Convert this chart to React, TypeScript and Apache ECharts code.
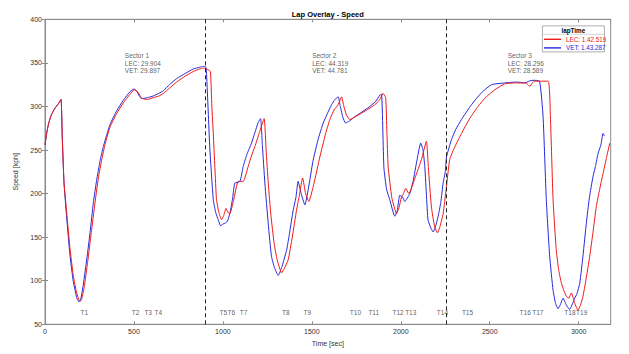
import React, { useEffect, useRef } from "react";
import * as echarts from "echarts";

const lecTime = [0, 10, 20, 35, 56, 75, 90, 97, 107, 122, 140, 159, 178, 197, 206, 220, 240, 260, 280, 300, 320, 337, 365, 403, 440, 478, 500, 520, 535, 548, 575, 608, 640, 665, 700, 740, 790, 833, 870, 889, 905, 919, 930, 938, 946, 955, 964, 978, 992, 1005, 1017, 1030, 1039, 1060, 1086, 1114, 1142, 1160, 1180, 1205, 1232, 1243, 1255, 1270, 1288, 1305, 1330, 1345, 1367, 1390, 1414, 1430, 1448, 1465, 1483, 1510, 1545, 1575, 1601, 1625, 1648, 1667, 1680, 1695, 1713, 1760, 1826, 1860, 1882, 1900, 1915, 1922, 1929, 1950, 1976, 1990, 2004, 2015, 2028, 2045, 2080, 2116, 2144, 2155, 2172, 2190, 2206, 2220, 2238, 2255, 2275, 2300, 2341, 2390, 2434, 2480, 2528, 2584, 2650, 2700, 2715, 2725, 2740, 2750, 2828, 2841, 2856, 2874, 2888, 2903, 2918, 2931, 2945, 2959, 2978, 2996, 3010, 3024, 3040, 3062, 3080, 3099, 3118, 3137, 3155, 3175];
const lecSpeed = [256, 270, 280, 290, 298, 303, 308, 265, 212, 178, 138, 106, 86, 76, 79, 92, 122, 155, 188, 218, 240, 256, 276, 292, 304, 314, 319, 317, 312, 309, 308, 310, 312, 315, 321, 328, 335, 340, 343, 344, 343, 342, 340, 300, 269, 230, 193, 178, 170, 175, 183, 178, 177, 192, 214, 214, 231, 243, 254, 270, 286, 250, 212, 175, 143, 124, 109, 114, 124, 150, 181, 198, 218, 200, 191, 210, 242, 267, 285, 296, 302, 311, 300, 290, 285, 290, 298, 303, 308, 315, 310, 270, 231, 195, 177, 184, 196, 200, 206, 200, 218, 239, 260, 230, 185, 162, 155, 162, 177, 205, 239, 252, 269, 287, 300, 311, 319, 326, 327, 327, 325, 323, 327, 329, 329, 288, 193, 135, 112, 97, 88, 82, 80, 86, 74, 66, 72, 82, 100, 128, 155, 185, 205, 223, 240, 258];

const vetTime = [0, 10, 20, 35, 56, 75, 90, 97, 107, 122, 140, 159, 178, 190, 200, 215, 235, 253, 272, 290, 310, 328, 365, 403, 440, 478, 500, 515, 530, 543, 575, 608, 640, 665, 700, 740, 790, 833, 870, 889, 905, 912, 927, 946, 960, 974, 987, 1000, 1011, 1025, 1040, 1055, 1067, 1096, 1114, 1135, 1161, 1180, 1199, 1212, 1222, 1236, 1255, 1273, 1290, 1311, 1330, 1358, 1375, 1395, 1410, 1423, 1440, 1461, 1480, 1507, 1535, 1564, 1590, 1611, 1630, 1648, 1660, 1675, 1690, 1710, 1740, 1770, 1826, 1860, 1882, 1892, 1905, 1920, 1938, 1966, 1980, 1994, 2010, 2022, 2051, 2070, 2088, 2112, 2125, 2135, 2145, 2153, 2170, 2182, 2195, 2210, 2225, 2238, 2250, 2257, 2285, 2310, 2341, 2380, 2416, 2460, 2510, 2584, 2650, 2700, 2720, 2743, 2780, 2800, 2818, 2837, 2856, 2870, 2884, 2898, 2912, 2931, 2949, 2962, 2978, 2990, 3006, 3025, 3043, 3060, 3080, 3095, 3109, 3125, 3137, 3145];
const vetSpeed = [256, 270, 280, 290, 298, 303, 308, 265, 212, 172, 130, 99, 81, 76, 78, 95, 125, 155, 190, 215, 238, 254, 279, 295, 307, 317, 320, 318, 312, 309, 310, 312, 315, 318, 325, 332, 338, 343, 345, 346, 345, 320, 250, 193, 178, 170, 163, 165, 166, 168, 178, 195, 212, 214, 231, 245, 258, 270, 282, 286, 255, 212, 165, 128, 115, 106, 115, 135, 155, 181, 195, 214, 200, 187, 205, 238, 262, 281, 293, 302, 308, 311, 300, 287, 281, 283, 288, 292, 300, 306, 313, 314, 230, 205, 193, 174, 180, 198, 196, 191, 200, 215, 235, 258, 250, 231, 195, 170, 160, 156, 162, 174, 190, 212, 225, 242, 262, 274, 285, 297, 307, 317, 325, 327, 328, 327, 329, 330, 329, 288, 193, 128, 89, 74, 68, 73, 80, 72, 67, 72, 80, 85, 97, 130, 166, 195, 219, 232, 246, 256, 269, 266];

const turnNames = ["T1", "T2", "T3", "T4", "T5", "T6", "T7", "T8", "T9", "T10", "T11", "T12", "T13", "T14", "T15", "T16", "T17", "T18", "T19"];
const turnTimes = [221, 509, 580, 637, 1002, 1047, 1116, 1354, 1474, 1745, 1848, 1985, 2056, 2234, 2375, 2699, 2770, 2951, 3017];
const turnLabelSpeed = 64;

const sectorBoundaries = [903, 2253];
const sectorNames = ["Sector 1", "Sector 2", "Sector 3"];
const sectorLabelTimes = [449, 1502, 2601];
const sectorLabelSpeed = 363;
const lecSectorTimes = ["29.904", "44.319", "28.296"];
const vetSectorTimes = ["29.897", "44.781", "28.589"];

const lecLapTime = "1.42.519";
const vetLapTime = "1.43.287";

const xTicks = { min: 0, max: 3180, interval: 500 };
const yTicks = { min: 50, max: 400, interval: 50 };

const FONT = "'Liberation Sans', Arial, Helvetica, sans-serif";
const RED = "#f01818";
const BLUE = "#2828dc";
const AXIS = "#8a8a8a";
const TEXT = "#333333";

export default function App() {
  const ref = useRef<HTMLDivElement>(null);
  useEffect(() => {
    document.body.style.margin = "0";
    if (!ref.current) return;
    const chart = echarts.init(ref.current, undefined, { renderer: "svg" });
    const zip = (t: number[], s: number[]) => t.map((v, i) => [v, s[i]]);
    const lecName = `LEC: ${lecLapTime}`;
    const vetName = `VET: ${vetLapTime}`;
    const grid = { left: 45, top: 19.3, width: 565.7, height: 305, show: true, borderColor: AXIS, borderWidth: 1, backgroundColor: "#ffffff" };
    const axisLabel = { fontFamily: FONT, fontSize: 7, color: TEXT };
    chart.setOption({
      animation: false,
      backgroundColor: "#ffffff",
      textStyle: { fontFamily: FONT },
      title: {
        text: "Lap Overlay - Speed",
        left: 327.8,
        textAlign: "center",
        top: 10,
        padding: 0,
        textStyle: { fontFamily: FONT, fontSize: 7.5, fontWeight: "bold", color: "#000" },
      },
      grid,
      legend: {
        orient: "vertical",
        left: 544,
        top: 35.3,
        padding: 0,
        z: 20,
        itemWidth: 17,
        itemHeight: 1.4,
        itemGap: 0.6,
        icon: "rect",
        data: [
          { name: lecName, textStyle: { color: RED } },
          { name: vetName, textStyle: { color: BLUE } },
        ],
        textStyle: { fontFamily: FONT, fontSize: 6.3, lineHeight: 8 },
      },
      graphic: [
        { type: "rect", left: 542, top: 25.5, shape: { width: 62, height: 26 }, style: { fill: "#fff", stroke: "#999", lineWidth: 0.8 }, z: 5 },
        { type: "line", shape: { x1: 542, y1: 34.3, x2: 604, y2: 34.3 }, style: { stroke: "#bbb", lineWidth: 0.6 }, z: 6 },
        { type: "text", left: 561.5, top: 27.3, style: { text: "lapTime", fontFamily: FONT, fontSize: 6.3, fontWeight: "bold", fill: "#000" }, z: 6 },
      ],
      xAxis: [
        {
          type: "value",
          ...xTicks,
          name: "Time [sec]",
          nameLocation: "middle",
          nameGap: 14,
          nameTextStyle: { fontFamily: FONT, fontSize: 7, color: TEXT },
          axisLine: { show: true, lineStyle: { color: AXIS } },
          axisTick: { show: true, inside: true, length: 3, lineStyle: { color: AXIS } },
          axisLabel: { ...axisLabel, margin: 4, showMaxLabel: false, formatter: (v: number) => String(v) },
          splitLine: { show: false },
        },
        {
          type: "value",
          position: "top",
          ...xTicks,
          axisLine: { show: true, lineStyle: { color: AXIS } },
          axisTick: { show: true, inside: true, length: 3, lineStyle: { color: AXIS } },
          axisLabel: { show: false },
          splitLine: { show: false },
        },
      ],
      yAxis: [
        {
          type: "value",
          ...yTicks,
          name: "Speed [kph]",
          nameLocation: "middle",
          nameGap: 17,
          nameTextStyle: { fontFamily: FONT, fontSize: 7, color: TEXT },
          axisLine: { show: true, lineStyle: { color: AXIS } },
          axisTick: { show: true, inside: true, length: 3, lineStyle: { color: AXIS } },
          axisLabel: { ...axisLabel, margin: 3 },
          splitLine: { show: false },
        },
        {
          type: "value",
          position: "right",
          ...yTicks,
          axisLine: { show: true, lineStyle: { color: AXIS } },
          axisTick: { show: true, inside: true, length: 3, lineStyle: { color: AXIS } },
          axisLabel: { show: false },
          splitLine: { show: false },
        },
      ],
      series: [
        {
          name: lecName,
          type: "line",
          data: zip(lecTime, lecSpeed),
          showSymbol: false,
          symbol: "none",
          smooth: 0.15,
          lineStyle: { color: RED, width: 1 },
          itemStyle: { color: RED },
          z: 3,
          markLine: {
            silent: true,
            symbol: "none",
            label: { show: false },
            lineStyle: { color: "#222", type: [4, 3], width: 1 },
            data: sectorBoundaries.map((x) => ({ xAxis: x })),
          },
        },
        {
          name: vetName,
          type: "line",
          data: zip(vetTime, vetSpeed),
          showSymbol: false,
          symbol: "none",
          smooth: 0.15,
          lineStyle: { color: BLUE, width: 1 },
          itemStyle: { color: BLUE },
          z: 2,
        },
        {
          name: "turns",
          type: "scatter",
          symbolSize: 0.1,
          itemStyle: { color: "rgba(0,0,0,0)" },
          silent: true,
          data: turnTimes.map((t, i) => ({ value: [t, turnLabelSpeed], name: turnNames[i] })),
          label: {
            show: true,
            position: "inside",
            formatter: "{b}",
            fontFamily: FONT,
            fontSize: 6.5,
            color: TEXT,
          },
        },
        {
          name: "sectors",
          type: "scatter",
          symbolSize: 0.1,
          itemStyle: { color: "rgba(0,0,0,0)" },
          silent: true,
          data: sectorLabelTimes.map((t, i) => ({
            value: [t, sectorLabelSpeed],
            name: `${sectorNames[i]}\nLEC: ${lecSectorTimes[i]}\nVET: ${vetSectorTimes[i]}`,
          })),
          label: {
            show: true,
            position: [0, 0],
            align: "left",
            verticalAlign: "top",
            formatter: "{b}",
            fontFamily: FONT,
            fontSize: 6.5,
            lineHeight: 7.8,
            color: TEXT,
          },
        },
      ],
    });
    return () => chart.dispose();
  }, []);
  return <div ref={ref} style={{ width: 629, height: 354 }} />;
}
